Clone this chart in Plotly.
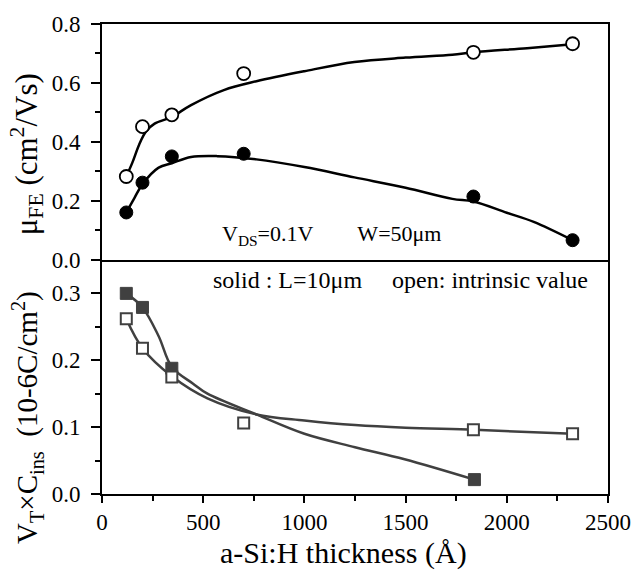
import plotly.graph_objects as go
from plotly.subplots import make_subplots

# a-Si:H thickness (Angstrom) of the measured TFTs
thickness = [120, 200, 345, 700, 1835, 2325]
thickness_vt_solid = [120, 200, 345, 1840]

# Field-effect mobility (cm^2/Vs)
mu_intrinsic = [0.283, 0.452, 0.492, 0.632, 0.704, 0.733]
mu_l10 = [0.161, 0.262, 0.351, 0.360, 0.215, 0.067]

# Threshold voltage x insulator capacitance (1e-6 C/cm^2)
vtc_l10 = [0.300, 0.279, 0.188, 0.0215]
vtc_intrinsic = [0.262, 0.218, 0.175, 0.106, 0.096, 0.090]

# Hand-drawn fit curves, sampled along their length
fit_mu_open_x = [120, 150, 183, 218, 260, 345, 440, 602, 763, 1000, 1247, 1500, 1731, 1835, 2100, 2325]
fit_mu_open_y = [0.283, 0.33, 0.39, 0.436, 0.462, 0.485, 0.525, 0.576, 0.606, 0.640, 0.671, 0.686, 0.696, 0.704, 0.718, 0.731]
fit_mu_solid_x = [120, 160, 200, 280, 345, 440, 570, 763, 1000, 1247, 1500, 1731, 1835, 2000, 2133, 2325]
fit_mu_solid_y = [0.161, 0.21, 0.257, 0.313, 0.328, 0.349, 0.352, 0.341, 0.315, 0.280, 0.245, 0.207, 0.198, 0.160, 0.129, 0.067]
fit_vt_solid_x = [120, 200, 280, 345, 450, 521, 763, 1000, 1250, 1495, 1840]
fit_vt_solid_y = [0.300, 0.279, 0.236, 0.190, 0.165, 0.150, 0.119, 0.090, 0.070, 0.052, 0.0215]
fit_vt_open_x = [120, 200, 345, 521, 763, 1000, 1250, 1500, 1840, 2325]
fit_vt_open_y = [0.262, 0.218, 0.176, 0.143, 0.119, 0.110, 0.103, 0.099, 0.096, 0.090]

FONT = "Times New Roman, Liberation Serif, DejaVu Serif, serif"
GRAY = "#404040"

fig = make_subplots(rows=2, cols=1, shared_xaxes=True, vertical_spacing=0)

# top panel: mobility
fig.add_trace(go.Scatter(x=fit_mu_open_x, y=fit_mu_open_y, mode="lines",
                         line=dict(color="black", width=2.5, shape="spline")), row=1, col=1)
fig.add_trace(go.Scatter(x=fit_mu_solid_x, y=fit_mu_solid_y, mode="lines",
                         line=dict(color="black", width=2.5, shape="spline")), row=1, col=1)
fig.add_trace(go.Scatter(x=thickness, y=mu_intrinsic, mode="markers",
                         marker=dict(symbol="circle", size=13, color="white",
                                     line=dict(color="black", width=1.8))), row=1, col=1)
fig.add_trace(go.Scatter(x=thickness, y=mu_l10, mode="markers",
                         marker=dict(symbol="circle", size=13, color="black",
                                     line=dict(color="black", width=1))), row=1, col=1)

# bottom panel: VT x Cins
fig.add_trace(go.Scatter(x=fit_vt_solid_x, y=fit_vt_solid_y, mode="lines",
                         line=dict(color=GRAY, width=2.5, shape="spline")), row=2, col=1)
fig.add_trace(go.Scatter(x=fit_vt_open_x, y=fit_vt_open_y, mode="lines",
                         line=dict(color=GRAY, width=2.5, shape="spline")), row=2, col=1)
fig.add_trace(go.Scatter(x=thickness_vt_solid, y=vtc_l10, mode="markers",
                         marker=dict(symbol="square", size=12, color=GRAY,
                                     line=dict(color=GRAY, width=1))), row=2, col=1)
fig.add_trace(go.Scatter(x=thickness, y=vtc_intrinsic, mode="markers",
                         marker=dict(symbol="square", size=11, color="white",
                                     line=dict(color=GRAY, width=2))), row=2, col=1)

axis_common = dict(showgrid=False, zeroline=False, showline=True, linecolor="black",
                   linewidth=1.6, tickcolor="black", tickwidth=1.6,
                   tickfont=dict(family=FONT, size=23, color="black"))

fig.update_xaxes(range=[0, 2500], **axis_common)
fig.update_xaxes(showticklabels=False, ticks="", mirror=True, row=1, col=1)
fig.update_xaxes(ticks="outside", ticklen=7, dtick=500, tick0=0, mirror=False,
                 minor=dict(dtick=250, ticklen=5, ticks="outside", tickcolor="black", tickwidth=1.6),
                 row=2, col=1)

fig.update_yaxes(mirror=True, **axis_common)
fig.update_yaxes(range=[0, 0.8], dtick=0.2, tick0=0, tickformat=".1f", ticks="outside", ticklen=9,
                 ticklabelstandoff=6,
                 minor=dict(dtick=0.1, ticklen=5, ticks="outside", tickcolor="black", tickwidth=1.6),
                 row=1, col=1)
fig.update_yaxes(range=[0, 0.35], dtick=0.1, tick0=0, tickformat=".1f", ticks="outside", ticklen=9,
                 ticklabelstandoff=6,
                 minor=dict(dtick=0.05, ticklen=5, ticks="outside", tickcolor="black", tickwidth=1.6),
                 row=2, col=1)

fig.update_layout(yaxis=dict(domain=[0.498, 1.0]), yaxis2=dict(domain=[0.0, 0.498]))

NB = "\u00a0"
annotations = [
    dict(text="V<sub>DS</sub>=0.1V" + NB * 8 + "W=50μm", x=0.234, y=0.518,
         xanchor="left", yanchor="bottom", font=dict(family=FONT, size=22, color="black")),
    dict(text="solid : L=10μm" + NB * 5 + "open: intrinsic value", x=0.215, y=0.455,
         xanchor="left", yanchor="middle", font=dict(family=FONT, size=24, color="black")),
    dict(text="a-Si:H thickness (Å)", x=0.478, y=-0.125,
         xanchor="center", yanchor="middle", font=dict(family=FONT, size=30, color="black")),
    dict(text="μ<sub>FE</sub> (cm<sup>2</sup>/Vs)", x=-0.148, y=0.723, textangle=-90,
         xanchor="center", yanchor="middle", font=dict(family=FONT, size=31, color="black")),
    dict(text="V<sub>T</sub>×C<sub>ins</sub>" + NB * 2 + "(10-6C/cm<sup>2</sup>)", x=-0.148, y=0.162,
         textangle=-90, xanchor="center", yanchor="middle",
         font=dict(family=FONT, size=29, color="black")),
]
for a in annotations:
    a.update(xref="paper", yref="paper", showarrow=False)

fig.update_layout(
    width=643, height=574,
    margin=dict(l=102, r=24, t=18, b=80),
    paper_bgcolor="white", plot_bgcolor="white",
    showlegend=False,
    annotations=annotations,
    font=dict(family=FONT, color="black"),
)

fig.write_html("out.html")
